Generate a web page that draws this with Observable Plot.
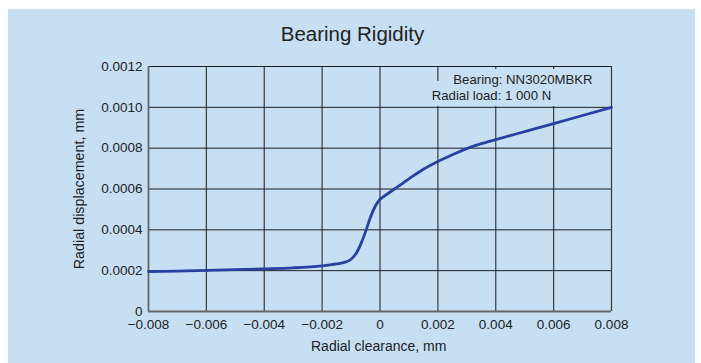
<!DOCTYPE html>
<html>
<head>
<meta charset="utf-8">
<script src="https://cdn.jsdelivr.net/npm/d3@7"></script>
<script src="https://cdn.jsdelivr.net/npm/@observablehq/plot@0.6"></script>
<style>
  body { margin: 0; background: #ffffff; }
  #wrap { position: relative; width: 701px; height: 363px; overflow: hidden; font-family: "Liberation Sans", Arial, sans-serif; color: #222; }
  #bg { position: absolute; left: 8px; top: 9px; width: 687px; height: 354px; background: #c7dff3; }
  #chart { position: absolute; left: 0; top: 0; }
  .mask { position: absolute; background: #c7dff3; }
  .t { position: absolute; white-space: nowrap; }
</style>
</head>
<body>
<div id="wrap">
  <div id="bg"></div>
  <div id="chart"></div>
  <div class="mask" style="left:445px;top:68.5px;width:165px;height:37px;"></div>
  <div class="mask" style="left:428px;top:81px;width:182px;height:24.8px;"></div>
  <div class="t" id="title" style="left:0;top:24.3px;width:705px;text-align:center;font-size:20.5px;line-height:20.5px;"></div>
  <div class="t" id="note1" style="left:453.3px;top:72.8px;font-size:13.2px;line-height:13.2px;"></div>
  <div class="t" id="note2" style="left:431.7px;top:88.8px;font-size:13.2px;line-height:13.2px;"></div>
  <div class="t" id="xlabel" style="left:178.7px;top:338.9px;width:400px;text-align:center;font-size:14px;line-height:14px;"></div>
  <div class="t" id="ylabel" style="left:-70.8px;top:181.5px;width:300px;text-align:center;font-size:14.3px;line-height:14px;transform:rotate(-90deg);transform-origin:150px 7px;"></div>
</div>
<script>
const titleText = "Bearing Rigidity";
const xLabelText = "Radial clearance, mm";
const yLabelText = "Radial displacement, mm";
const noteLines = ["Bearing: NN3020MBKR", "Radial load: 1 000 N"];

const clearance = [-0.008, -0.007, -0.006, -0.005, -0.004, -0.003, -0.002, -0.0015, -0.0012, -0.001, -0.0008, -0.00065, -0.0005, -0.00033, -0.00015, 0, 0.0005, 0.001, 0.0015, 0.002, 0.0025, 0.003, 0.0035, 0.004, 0.005, 0.006, 0.007, 0.008];
const displacement = [0.000195, 0.000198, 0.000201, 0.000205, 0.000209, 0.000214, 0.000224, 0.000233, 0.000242, 0.000256, 0.00029, 0.000335, 0.00039, 0.000462, 0.000519, 0.00055, 0.0006, 0.00065, 0.000697, 0.000735, 0.000768, 0.000798, 0.000822, 0.000842, 0.000881, 0.00092, 0.00096, 0.001];

const xTicks = [-0.008, -0.006, -0.004, -0.002, 0, 0.002, 0.004, 0.006, 0.008];
const yTicks = [0, 0.0002, 0.0004, 0.0006, 0.0008, 0.0010, 0.0012];

// two branches meeting at zero clearance (sharp corner there)
const data = [];
clearance.forEach((c, i) => {
  if (c <= 0) data.push({c, d: displacement[i], branch: "neg"});
  if (c >= 0) data.push({c, d: displacement[i], branch: "pos"});
});

const fx = d => d === 0 ? "0" : d3.format(".3f")(d);
const fy = d => d === 0 ? "0" : d3.format(".4f")(d);

const plot = Plot.plot({
  width: 701,
  height: 363,
  marginLeft: 148,
  marginRight: 90,
  marginTop: 66,
  marginBottom: 52,
  style: {background: "transparent", fontFamily: "Liberation Sans, Arial, sans-serif", fontSize: "13.5px", color: "#222", overflow: "visible"},
  x: {domain: [-0.008, 0.008], ticks: xTicks, tickFormat: fx, tickSize: 0, tickPadding: 8, label: null},
  y: {domain: [0, 0.0012], ticks: yTicks, tickFormat: fy, tickSize: 0, tickPadding: 6, label: null},
  marks: [
    Plot.ruleX(xTicks, {stroke: "#3a3a3a", strokeWidth: 1.2}),
    Plot.ruleY(yTicks, {stroke: "#1e1e1e", strokeWidth: 1}),
    Plot.ruleX([xTicks[0]], {stroke: "#666", strokeWidth: 1.6}),
    Plot.ruleY([yTicks[0]], {stroke: "#666", strokeWidth: 2}),
    Plot.line(data, {x: "c", y: "d", z: "branch", curve: "monotone-x", stroke: "#2840a0", strokeWidth: 2.8, strokeLinejoin: "round", strokeLinecap: "round"})
  ]
});
document.getElementById("chart").appendChild(plot);
document.getElementById("title").textContent = titleText;
document.getElementById("note1").textContent = noteLines[0];
document.getElementById("note2").textContent = noteLines[1];
document.getElementById("xlabel").textContent = xLabelText;
document.getElementById("ylabel").textContent = yLabelText;
</script>
</body>
</html>
